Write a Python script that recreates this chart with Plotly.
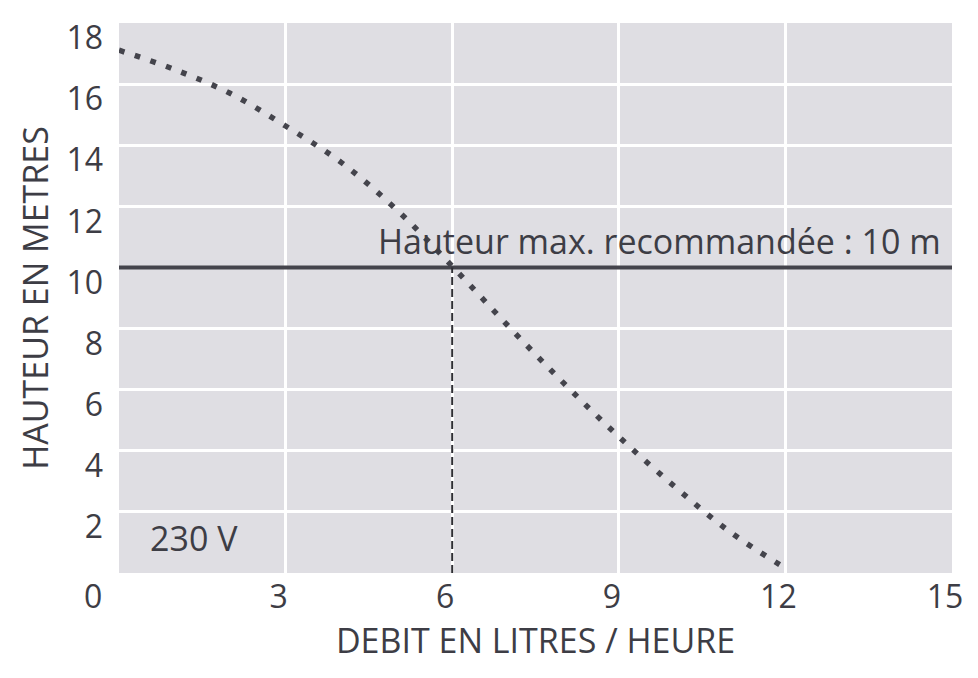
import plotly.graph_objects as go

# Courbe débit / hauteur
debit = [0, 1, 2, 3, 4, 5, 6, 7, 8, 9, 10, 11, 12.05]
hauteur = [17.11, 16.48, 15.70, 14.63, 13.44, 11.89, 10.04, 8.10, 6.23, 4.46, 2.84, 1.35, 0.1]

hauteur_max = 10
debit_hmax = 6
x_ticks = [3, 6, 9, 12, 15]
y_ticks = [2, 4, 6, 8, 10, 12, 14, 16, 18]

txt_color = '#3d3d45'
line_color = '#44444c'
font_name = 'Open Sans'

fig = go.Figure()

# hauteur max recommandée
fig.add_trace(go.Scatter(x=[0, 15], y=[hauteur_max, hauteur_max], mode='lines',
                         line=dict(color=line_color, width=4), hoverinfo='skip'))

# repère vertical au débit correspondant
fig.add_trace(go.Scatter(x=[debit_hmax, debit_hmax], y=[0, hauteur_max], mode='lines',
                         line=dict(color='#2e2e34', width=2, dash='8px,4px'), hoverinfo='skip'))

# courbe pointillée
fig.add_trace(go.Scatter(x=debit, y=hauteur, mode='lines',
                         line=dict(color=line_color, width=5.5, dash='5.5px,11px', shape='spline'),
                         hoverinfo='skip'))

fig.add_annotation(x=4.63, y=10.85, text='Hauteur max. recommandée : 10 m', showarrow=False,
                   xanchor='left', yanchor='middle', font=dict(size=34, color=txt_color, family=font_name))
fig.add_annotation(x=0.52, y=1.15, text='230 V', showarrow=False,
                   xanchor='left', yanchor='middle', font=dict(size=34, color=txt_color, family=font_name))
# origine commune aux deux axes
fig.add_annotation(x=0, xref='paper', y=0, yref='y', text='0', showarrow=False,
                   xanchor='right', yanchor='middle', xshift=-15, yshift=-22,
                   font=dict(size=32, color=txt_color, family=font_name))

# le navigateur ajoute 8 px de marge au corps de page
fig.update_layout(
    width=962, height=662,
    margin=dict(l=111, r=18, t=15, b=97),
    paper_bgcolor='white', plot_bgcolor='#dfdee3',
    showlegend=False,
    font=dict(family=font_name, color=txt_color, size=32),
)
fig.update_xaxes(range=[0, 15], tickvals=x_ticks, showgrid=True, gridcolor='white', gridwidth=3,
                 zeroline=False, ticks='', ticklabelshift=-7, ticklabelstandoff=2,
                 ticklabeloverflow='allow', tickfont=dict(size=32), automargin=False,
                 title=dict(text='DEBIT EN LITRES / HEURE', font=dict(size=34), standoff=10))
fig.update_yaxes(range=[0, 18.001], tickvals=y_ticks, showgrid=True, gridcolor='white', gridwidth=3,
                 zeroline=False, ticks='', ticklabelshift=15, ticklabelstandoff=15,
                 ticklabeloverflow='allow', tickfont=dict(size=32), automargin=False,
                 title=dict(text='HAUTEUR EN METRES', font=dict(size=34), standoff=7))

fig.write_html("out.html")
